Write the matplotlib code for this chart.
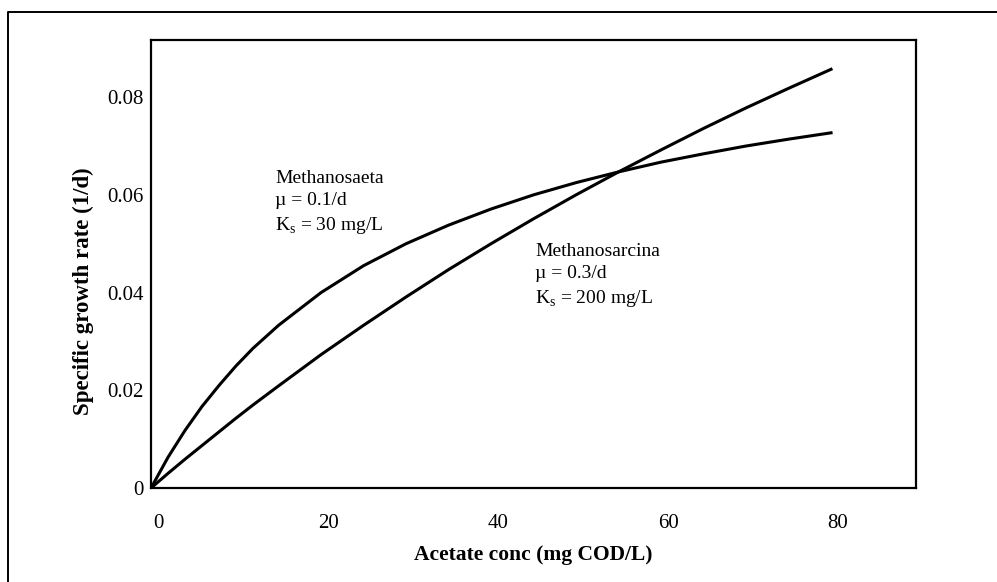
import matplotlib
matplotlib.use("Agg")
import matplotlib.pyplot as plt
import matplotlib.transforms as mtransforms
from matplotlib.lines import Line2D

plt.rcParams['font.family'] = ['Liberation Serif', 'DejaVu Serif']
plt.rcParams['mathtext.fontset'] = 'custom'
plt.rcParams['mathtext.rm'] = 'Liberation Serif'

# acetate concentration (mg COD/L)
conc = [0, 2, 4, 6, 8, 10, 12, 15, 20, 25, 30, 35, 40, 45, 50, 55, 60, 65, 70, 75, 80]
# specific growth rate (1/d)
saeta = [0, 0.0063, 0.0118, 0.0167, 0.0210, 0.0250, 0.0286, 0.0333, 0.0400, 0.0455,
         0.0500, 0.0538, 0.0571, 0.0600, 0.0625, 0.0647, 0.0667, 0.0684, 0.0700, 0.0714, 0.0727]
sarcina = [0, 0.0030, 0.0059, 0.0087, 0.0115, 0.0143, 0.0170, 0.0209, 0.0273, 0.0333,
           0.0391, 0.0447, 0.0500, 0.0551, 0.0600, 0.0647, 0.0692, 0.0736, 0.0778, 0.0818, 0.0857]

x_ticks = [0, 20, 40, 60, 80]
y_ticks = [0, 0.02, 0.04, 0.06, 0.08]
y_labels = ['0', '0.02', '0.04', '0.06', '0.08']

fig = plt.figure(figsize=(9.97, 5.82), dpi=100)
ax = fig.add_axes([0.1515, 0.1615, 0.7673, 0.7698])

ax.plot(conc, saeta, color='black', lw=2.2)
ax.plot(conc, sarcina, color='black', lw=2.2)

ax.set_xlim(0, 90)
ax.set_ylim(0, 0.0917)
ax.set_xticks(x_ticks)
ax.set_xticklabels([str(t) for t in x_ticks])
ax.set_yticks(y_ticks)
ax.set_yticklabels(y_labels)
ax.tick_params(axis='both', length=0, labelsize=15)
ax.tick_params(axis='x', pad=19)
ax.tick_params(axis='y', pad=5)
for lab in ax.get_xticklabels():
    lab.set_transform(lab.get_transform() + mtransforms.ScaledTranslation(7 / 100, 0, fig.dpi_scale_trans))

for s in ax.spines.values():
    s.set_linewidth(1.6)

ax.set_xlabel('Acetate conc (mg COD/L)', fontsize=15.5, fontweight='bold', labelpad=8)
ax.set_ylabel('Specific growth rate (1/d)', fontsize=16.5, fontweight='bold')
ax.yaxis.set_label_coords(-57 / 765, 0.44)

ax.text(14.6, 0.0583, 'Methanosaeta\nµ = 0.1/d\nK$_\\mathrm{s}$ = 30 mg/L', fontsize=14,
        va='center', ha='left', linespacing=1.37)
ax.text(45.2, 0.0434, 'Methanosarcina\nµ = 0.3/d\nK$_\\mathrm{s}$ = 200 mg/L', fontsize=14,
        va='center', ha='left', linespacing=1.37)

# outer frame
fx = 8 / 997
fy = 1 - 12 / 582
fig.add_artist(Line2D([fx, fx, 1], [0, fy, fy], color='black', lw=1.4, transform=fig.transFigure))

fig.savefig('out.png', dpi=100)
